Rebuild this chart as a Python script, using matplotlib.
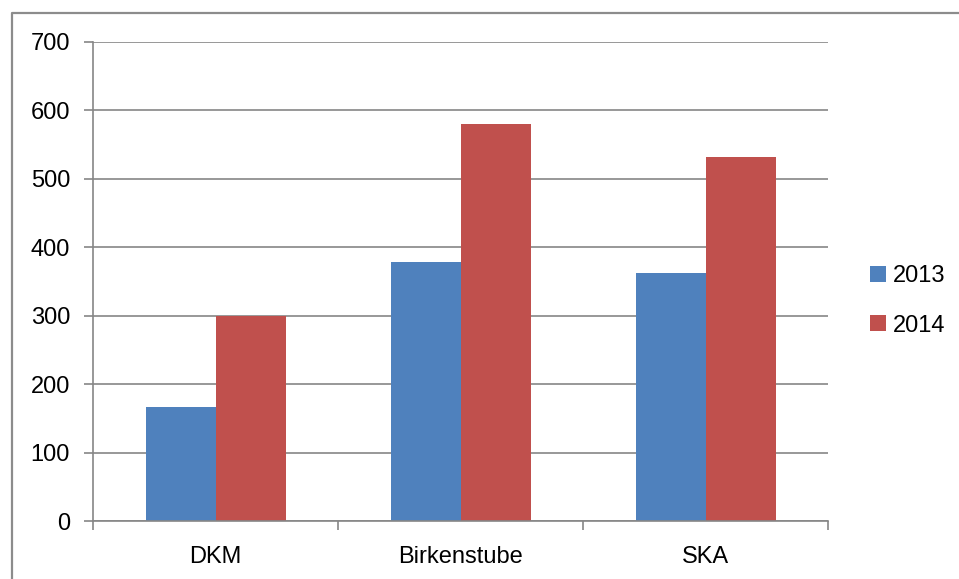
import numpy as np
import matplotlib
matplotlib.use("Agg")
import matplotlib.pyplot as plt
from matplotlib.lines import Line2D

# Values per site and year
categories = ["DKM", "Birkenstube", "SKA"]
years = ["2013", "2014"]
values_2013 = [167, 379, 363]
values_2014 = [300, 580, 532]
y_ticks = [0, 100, 200, 300, 400, 500, 600, 700]

plt.rcParams['font.family'] = ['Liberation Sans', 'DejaVu Sans']
plt.rcParams['font.size'] = 17

fig = plt.figure(figsize=(9.59, 5.79), dpi=100)
ax = fig.add_axes([93 / 959, 1 - 521 / 579, (828 - 93) / 959, (521 - 42) / 579])

x = np.arange(len(categories))
width = 1 / 3.5  # gap of 150% of a bar between groups
grid_col = "#868686"

ax.bar(x - width / 2, values_2013, width, color="#4F81BD", label=years[0], zorder=2)
ax.bar(x + width / 2, values_2014, width, color="#C0504D", label=years[1], zorder=2)

ax.set_xlim(-0.5, len(categories) - 0.5)
ax.set_ylim(0, 700)
ax.set_yticks(y_ticks)
ax.set_xticks(x)
ax.set_xticklabels(categories)
ax.set_xticks(np.arange(len(categories) + 1) - 0.5, minor=True)

ax.yaxis.grid(True, color=grid_col, linewidth=1.2, zorder=0)
ax.set_axisbelow(True)
for side in ["top", "right"]:
    ax.spines[side].set_visible(False)
for side in ["left", "bottom"]:
    ax.spines[side].set_color(grid_col)
    ax.spines[side].set_linewidth(1.2)

ax.tick_params(axis="y", length=6.5, width=1.2, color=grid_col, pad=10)
ax.tick_params(axis="x", which="major", length=0, pad=18)
ax.tick_params(axis="x", which="minor", length=6.5, width=1.2, color=grid_col)

ax.legend(loc="center left", bbox_to_anchor=(870 / 959, 1 - 301 / 579),
          bbox_transform=fig.transFigure, frameon=False, borderpad=0,
          borderaxespad=0, handlelength=0.68, handleheight=0.68,
          handletextpad=0.3, labelspacing=1.15)

# outer chart frame (top and left edges)
fig.add_artist(Line2D([11.5 / 959, 11.5 / 959, 1.0], [0.0, 1 - 12.5 / 579, 1 - 12.5 / 579],
                      transform=fig.transFigure, color="#8c8c8c", linewidth=1.6))

fig.savefig("out.png", dpi=100)
